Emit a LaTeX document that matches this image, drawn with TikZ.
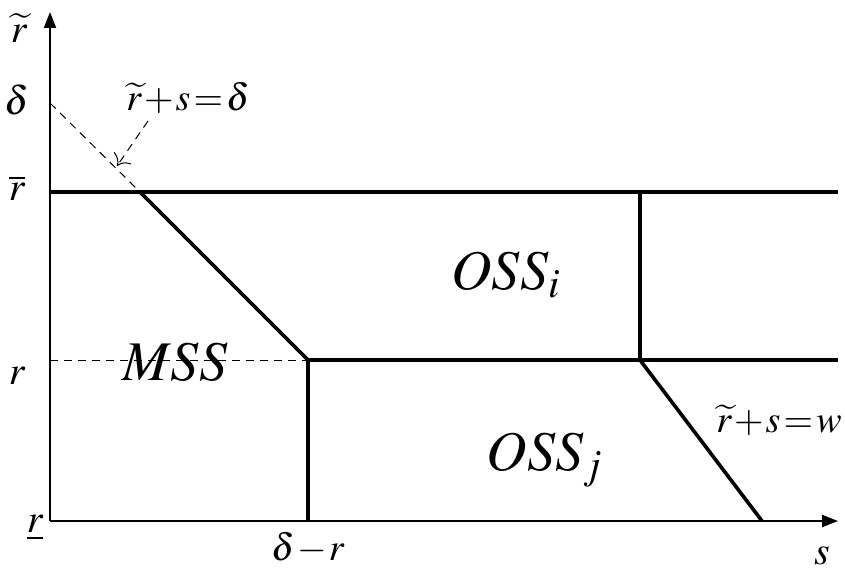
\documentclass[tikz,border=0pt]{standalone}
\usepackage{mathptmx}
\usetikzlibrary{arrows.meta}
\newcommand{\tightmath}{\medmuskip=1mu\relax\thickmuskip=1.5mu\relax}

\begin{document}
\begin{tikzpicture}[x=0.5pt, y=-0.5pt,
  ax/.style={line width=1pt, -{Triangle[length=8pt, width=6pt]}},
  bd/.style={line width=1.8pt},
  gd/.style={line width=0.5pt, dash pattern=on 4pt off 3pt},
  lb/.style={inner sep=0pt, font=\fontsize{20}{24}\selectfont},
  eq/.style={inner sep=0pt, font=\fontsize{19}{23}\selectfont,
             execute at begin node=\tightmath},
  rg/.style={inner sep=0pt, font=\fontsize{28}{32}\selectfont}]
  \useasboundingbox (0,0) rectangle (845,577);
  % corner points of the regions
  \coordinate (O) at (50,521);
  \coordinate (xend) at (838,521);
  \coordinate (yend) at (50,12);
  \coordinate (d0) at (50,103);
  \coordinate (rb0) at (50,192);
  \coordinate (rb1) at (140,192);
  \coordinate (rb2) at (640,192);
  \coordinate (rb3) at (838,192);
  \coordinate (r0) at (50,360);
  \coordinate (r1) at (308,360);
  \coordinate (r2) at (640,360);
  \coordinate (r3) at (838,360);
  \coordinate (x1) at (308,521);
  \coordinate (x2) at (762,521);
  % axes
  \draw[ax] (O) -- (xend);
  \draw[ax] (O) -- (yend);
  % boundaries
  \draw[bd] (rb0) -- (rb3);
  \draw[bd] (r1) -- (r3);
  \draw[bd] (rb1) -- (r1) -- (x1);
  \draw[bd] (rb2) -- (r2) -- (x2);
  \draw[gd] (d0) -- (rb1);
  \draw[gd] (r0) -- (r1);
  % axis labels
  \node[lb] (lrt) at (19,28) {$\widetilde{r}$};
  \node[lb] (ld) at (17,100) {$\delta$};
  \node[lb] (lrb) at (17,188) {$\overline{r}$};
  \node[lb] (lr) at (17,376) {$r$};
  \node[lb] (lru) at (35,528) {$\underline{r}$};
  \node[eq] (ldr) at (308,548) {$\delta-r$};
  \node[lb] (ls) at (822,556) {$s$};
  % region labels
  \node[eq] (eqd) at (188,98) {$\widetilde{r}+s=\delta$};
  \node[eq] (eqw) at (779,420) {$\widetilde{r}+s=w$};
  \node[rg] (mss) at (175,362) {$MSS$};
  \node[rg] (ossi) at (506,275) {$OSS_i$};
  \node[rg] (ossj) at (545,460) {$OSS_j$};
  \coordinate (tip) at (117,166);
  \draw[gd, -{To[length=5pt]}] (148,121) -- (tip);
\end{tikzpicture}
\end{document}
